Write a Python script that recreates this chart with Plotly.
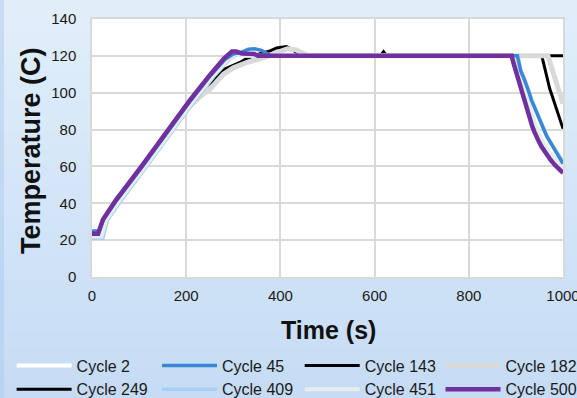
import plotly.graph_objects as go

# ---------------- data ----------------
x_ticks = [0, 200, 400, 600, 800, 1000]
y_ticks = [0, 20, 40, 60, 80, 100, 120, 140]

c2_t = [0, 18, 28, 55, 110, 167, 213, 255, 285, 303, 315, 330,
        897, 901, 906, 911, 915, 920, 924, 928, 933, 937, 942, 946, 952, 957, 962, 967, 975, 984, 993, 1000]
c2_T = [22, 22, 31, 41.5, 60, 80, 96, 109.5, 118, 121, 120.8, 120,
        120, 116, 111.5, 107.5, 104, 99.5, 95.5, 92, 88.5, 85, 81.5, 78.3, 75.5, 72.8, 70.5, 68.4, 66.5, 63.8, 61, 59.2]

c45_t = [0, 15, 25, 52, 107, 164, 210, 252, 282, 300, 318, 332, 345, 360, 372, 380,
         903, 907, 910, 917, 923, 928, 933, 939, 944, 950, 955, 960, 965, 971, 977, 982, 987, 994, 1000]
c45_T = [25, 25, 31.5, 41.5, 60, 80, 96, 109.5, 118, 121, 122, 123.6, 123.8, 123, 121, 120,
         120, 115.5, 112, 107.8, 104, 100, 96, 92.3, 89, 85.5, 82.5, 79.4, 76.6, 74, 71.5, 69.5, 67.7, 64.5, 61.5]

c143_t = [0, 19, 29, 56, 111, 168, 205, 230, 250, 279, 300, 325, 350, 380, 400, 415, 432, 445, 458, 475,
          612, 619, 626, 955, 958, 962, 967, 972, 976, 980, 984, 987, 991, 994, 997, 1000]
c143_T = [22.5, 22.5, 31, 41.5, 60, 80, 92, 98, 102, 110, 113.5, 116, 117.8, 120, 122.5, 123.8, 123.3, 121.8, 120.3, 120,
          120, 122.3, 120, 120, 116.5, 112.5, 107, 102, 99, 96, 93, 91, 88, 85.5, 83, 80.5]

c182_t = [0, 20, 30, 57, 112, 169, 205, 230, 250, 279, 300, 325, 350, 380, 400, 415, 432, 445, 458, 475,
          968, 971, 975, 980, 985, 989, 993, 997, 1000]
c182_T = [22, 22, 31, 41.5, 60, 80, 92, 98, 101.8, 110, 113.5, 116, 117.8, 120.3, 122.5, 123.8, 123.3, 121.8, 120.3, 120,
          120, 117.5, 114, 109.5, 105.5, 102, 99, 96, 94]

c249_t = [0, 18, 28, 55, 110, 167, 200, 230, 255, 282, 314, 328, 355, 378, 392, 413, 425, 440, 452, 1000]
c249_T = [23, 23, 31, 41.5, 60, 80, 93, 101, 106, 112.8, 116.4, 118.5, 121, 122.7, 124.3, 125, 123.5, 120.5, 120, 120]

c409_t = [0, 23, 33, 62, 116, 173, 219, 261, 291, 310, 322, 335,
          904, 908, 911, 918, 924, 929, 934, 940, 945, 951, 956, 961, 966, 972, 978, 983, 988, 995, 1000]
c409_T = [21, 21, 31, 41.5, 60, 80, 96, 109.5, 118, 121, 120.5, 120,
          120, 115.5, 112, 107.8, 104, 100, 96, 92.3, 89, 85.5, 82.5, 79.4, 76.6, 74, 71.5, 69.5, 67.7, 64.5, 62.5]

c451_t = [0, 20, 30, 58, 113, 170, 216, 258, 288, 306, 318, 332,
          898, 902, 907, 912, 916, 921, 925, 929, 934, 938, 943, 947, 953, 958, 963, 968, 976, 985, 994, 1000]
c451_T = [22, 22, 31, 41.5, 60, 80, 96, 109.5, 118, 121, 120.6, 120,
          120, 116, 111.5, 107.5, 104, 99.5, 95.5, 92, 88.5, 85, 81.5, 78.3, 75.5, 72.8, 70.5, 68.4, 66.5, 63.8, 61, 59.5]

c500_t = [0, 13, 23, 50, 105, 162, 208, 250, 280, 297, 306, 318, 345, 352,
          891, 895, 900, 905, 909, 914, 918, 922, 926, 931, 935, 940, 944, 950, 955, 960, 965, 973, 982, 991, 1000]
c500_T = [23.5, 23.5, 31, 41.5, 60, 80, 96, 109.5, 118.5, 122.3, 122.3, 121.3, 121, 120,
          120, 116, 111.5, 107.5, 104, 99.5, 95.5, 92, 88.5, 85, 81.5, 78.3, 75.5, 72.8, 70.5, 68.4, 66.5, 63.8, 61, 58.6, 56.5]

# draw order (bottom -> top); legendrank gives the legend order
series = [
    ("Cycle 143", c143_t, c143_T, "#000000", 3, 3, "legend3"),
    ("Cycle 249", c249_t, c249_T, "#000000", 3, 5, "legend"),
    ("Cycle 182", c182_t, c182_T, "#d9d9d9", 5, 4, "legend4"),
    ("Cycle 2", c2_t, c2_T, "#ffffff", 4, 1, "legend"),
    ("Cycle 409", c409_t, c409_T, "#a9cdf3", 3.5, 6, "legend2"),
    ("Cycle 451", c451_t, c451_T, "#e4efec", 4, 7, "legend3"),
    ("Cycle 45", c45_t, c45_T, "#3a87d6", 3.5, 2, "legend2"),
    ("Cycle 500", c500_t, c500_T, "#7030a0", 4.5, 8, "legend4"),
]

fig = go.Figure()
for name, t, T, col, w, rank, lg in series:
    fig.add_trace(go.Scatter(x=t, y=T, mode="lines", name=name,
                             line=dict(color=col, width=w),
                             legendrank=rank, legend=lg))

W, H = 577, 398
ML, MR, MT, MB = 92, 14, 19, 121
PW, PH = W - ML - MR, H - MT - MB


def px_x(px):
    return (px - ML) / PW


def px_y(py):
    return (H - MB - py) / PH


# gradient background bands (paper coordinates extending into the margins)
top_c = (225, 238, 250)
bot_c = (198, 220, 245)
nb = 24
y_lo = px_y(H)
y_hi = px_y(0)
shapes = []
for i in range(nb):
    f = i / (nb - 1)
    c = tuple(int(round(top_c[k] + (bot_c[k] - top_c[k]) * f)) for k in range(3))
    y1 = y_hi - (y_hi - y_lo) * i / nb
    y0 = y_hi - (y_hi - y_lo) * (i + 1) / nb
    shapes.append(dict(type="rect", xref="paper", yref="paper", x0=-1, x1=2, y0=y0 - 0.002, y1=y1,
                       fillcolor="rgb(%d,%d,%d)" % c, line=dict(width=0), layer="below"))
shapes.append(dict(type="rect", xref="paper", yref="paper", x0=-1, x1=px_x(4),
                   y0=y_lo, y1=y_hi, fillcolor="rgba(170,200,235,0.45)", line=dict(width=0), layer="below"))
shapes.append(dict(type="rect", xref="paper", yref="paper", x0=0, x1=1, y0=0, y1=1,
                   fillcolor="white", line=dict(width=0), layer="below"))

font = "Arial, Liberation Sans, sans-serif"
leg_common = dict(orientation="v", xref="container", yref="container", xanchor="left", yanchor="top",
                  y=1 - 348.5 / H, bgcolor="rgba(0,0,0,0)", borderwidth=0, itemwidth=55,
                  font=dict(family=font, size=16, color="#1a1a1a"), tracegroupgap=0)

fig.update_layout(
    width=W, height=H,
    margin=dict(l=ML, r=MR, t=MT, b=MB, autoexpand=False),
    paper_bgcolor="rgb(212,230,248)",
    plot_bgcolor="white",
    shapes=shapes,
    showlegend=True,
    legend=dict(leg_common, x=11.6 / W),
    legend2=dict(leg_common, x=157 / W),
    legend3=dict(leg_common, x=299.7 / W),
    legend4=dict(leg_common, x=440.5 / W),
    xaxis=dict(range=[0, 1000], tickvals=x_ticks, ticktext=[str(v) for v in x_ticks],
               showgrid=True, gridcolor="#d9d9d9", gridwidth=1.5,
               showline=True, linecolor="#d9d9d9", linewidth=1.5, mirror=True,
               zeroline=False, ticks="", ticklabelstandoff=4, ticklabeloverflow="allow",
               tickfont=dict(family=font, size=15, color="#1a1a1a"),
               automargin=False),
    yaxis=dict(range=[0, 140], tickvals=y_ticks, ticktext=[str(v) for v in y_ticks],
               showgrid=True, gridcolor="#d9d9d9", gridwidth=1.5,
               showline=True, linecolor="#d9d9d9", linewidth=1.5, mirror=True,
               zeroline=False, ticks="", ticklabelstandoff=11,
               tickfont=dict(family=font, size=15, color="#1a1a1a"),
               automargin=False),
    annotations=[
        dict(text="<b>Time (s)</b>", xref="paper", yref="paper", x=px_x(328), y=px_y(330),
             xanchor="center", yanchor="middle", showarrow=False,
             font=dict(family=font, size=25, color="#111")),
        dict(text="<b>Temperature (C)</b>", xref="paper", yref="paper", x=px_x(31), y=px_y(151),
             xanchor="center", yanchor="middle", showarrow=False, textangle=-90,
             font=dict(family=font, size=27, color="#111")),
    ],
)

fig.write_html("out.html", config={"displayModeBar": False},
               post_script="document.body.style.margin='0';document.body.style.overflow='hidden';")
